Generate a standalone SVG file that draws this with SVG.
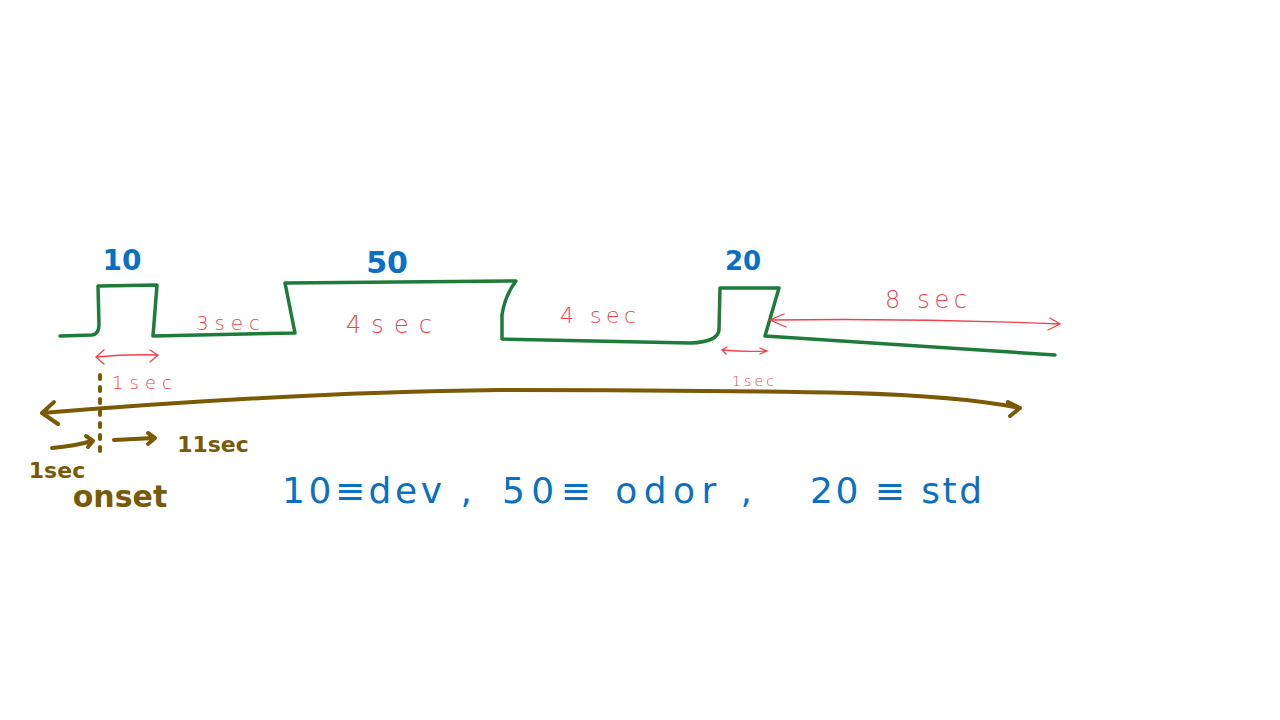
<svg xmlns="http://www.w3.org/2000/svg" width="1280" height="720" viewBox="0 0 1280 720">
<style>
.wave{fill:none;stroke:#1e7b3a;stroke-width:3.5;stroke-linejoin:round;stroke-linecap:round}
.red{fill:none;stroke:#f0424b;stroke-width:1.3;stroke-linecap:round}
.rt{fill:#f0424b;font-family:"DejaVu Sans",sans-serif;font-weight:300}
.br{fill:none;stroke:#7a5a06;stroke-width:4;stroke-linecap:round;stroke-linejoin:round}
.bt{fill:#7a5a06;font-family:"DejaVu Sans",sans-serif;font-weight:bold}
.blue{fill:#0b6fc2;font-family:"DejaVu Sans",sans-serif;font-weight:bold}
.bl{fill:#0b6fc2;font-family:"DejaVu Sans",sans-serif}
</style>
<rect width="1280" height="720" fill="#ffffff"/>
<g id="waveform">
<path class="wave" d="M60,336 L92,335 Q99,334 99,325 L98,286 L157,285 L153,336 L295,333 L285,283 L516,281 Q505,295 502,315 L502,339 L690,343 Q718,342 719,330 L720,288 L779,288 L765,336 L1055,355"/>
</g>
<g id="labels-top">
<text class="blue" x="122" y="270" font-size="28" text-anchor="middle">10</text>
<text class="blue" x="387" y="273" font-size="30" text-anchor="middle">50</text>
<text class="blue" x="743" y="270" font-size="26" text-anchor="middle">20</text>
</g>
<g id="red-annotations">
<text class="rt" x="196" y="330" font-size="20" textLength="64" lengthAdjust="spacing">3sec</text>
<text class="rt" x="346" y="333" font-size="24" textLength="86" lengthAdjust="spacing">4sec</text>
<text class="rt" x="560" y="323" font-size="22" textLength="76" lengthAdjust="spacing">4 sec</text>
<text class="rt" x="885" y="308" font-size="24" textLength="82" lengthAdjust="spacing">8 sec</text>
<text class="rt" x="112" y="389" font-size="18" textLength="60" lengthAdjust="spacing">1sec</text>
<text class="rt" x="732" y="386" font-size="14" textLength="42" lengthAdjust="spacing">1sec</text>
</g>
<g id="connectors">
<path class="red" d="M96,357 Q127,354 158,355 M104,350 L96,357 L104,364 M150,350 L158,355 L150,362"/>
<path class="red" d="M722,350 Q745,352 767,351 M727,347 L722,350 L726,354 M760,348 L767,351 L760,354"/>
<path class="red" d="M770,320 Q915,318 1060,324 M784,314 L770,320 L786,327 M1050,318 L1060,324 L1048,330"/>
<path class="br" d="M42,413 Q300,392 500,390 Q700,390 850,393 Q960,396 1020,408 M54,402 L42,413 L58,424 M1008,402 L1020,408 L1010,416"/>
<path class="br" d="M100,375 L100,458" stroke-dasharray="4,8" stroke-width="3"/>
<path class="br" d="M52,448 Q75,446 92,441 M86,436 L93,441 L88,447" stroke-width="3.5"/>
<path class="br" d="M114,440 Q135,439 154,438 M148,433 L155,438 L148,444" stroke-width="3.5"/>
</g>
<g id="brown-labels">
<text class="bt" x="57" y="478" font-size="22" text-anchor="middle">1sec</text>
<text class="bt" x="213" y="452" font-size="22" text-anchor="middle">11sec</text>
<text class="bt" x="120" y="507" font-size="30" text-anchor="middle">onset</text>
</g>
<g id="legend">
<text class="bl" x="282" y="503" font-size="36" textLength="190" lengthAdjust="spacing">10≡dev ,</text>
<text class="bl" x="502" y="503" font-size="36" textLength="250" lengthAdjust="spacing">50≡ odor ,</text>
<text class="bl" x="810" y="503" font-size="36" textLength="172" lengthAdjust="spacing">20 ≡ std</text>
</g>
</svg>
